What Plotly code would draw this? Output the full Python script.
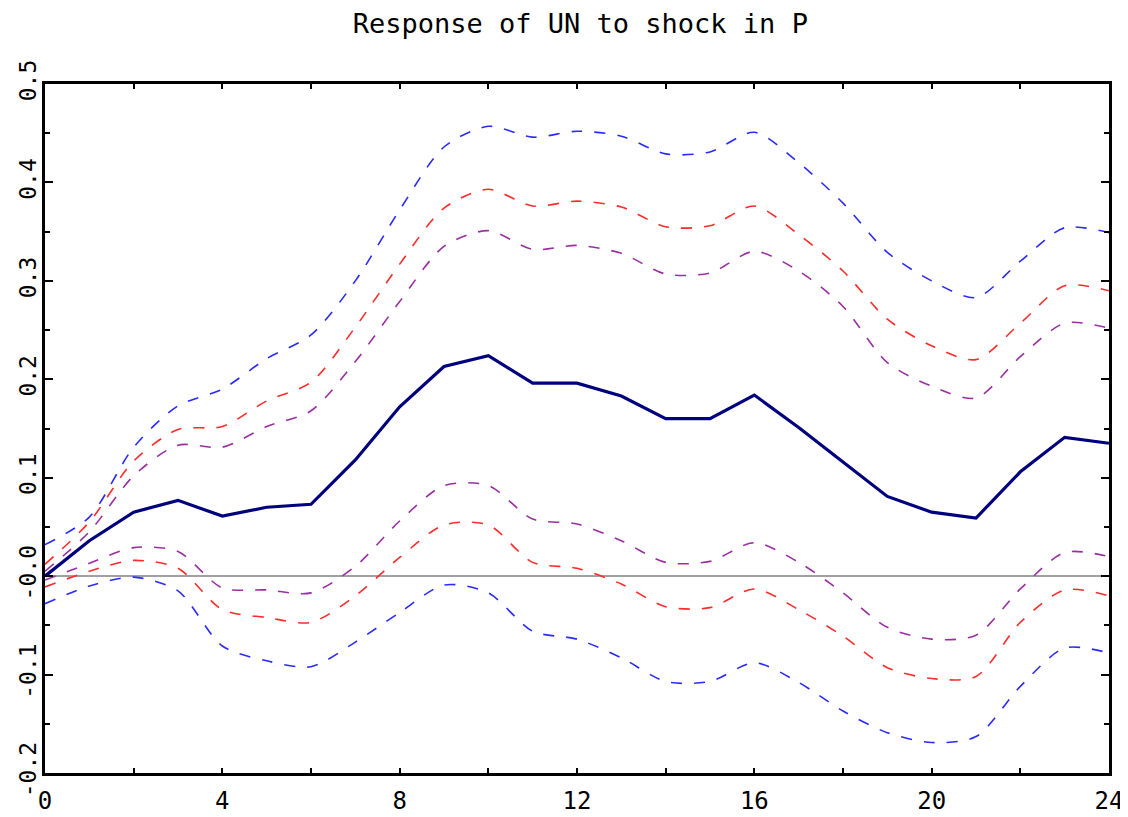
import plotly.graph_objects as go

steps = list(range(25))

response = [0.0, 0.036, 0.065, 0.077, 0.061, 0.07, 0.073, 0.118, 0.172, 0.213, 0.224, 0.196, 0.196,
            0.183, 0.16, 0.16, 0.184, 0.151, 0.116, 0.081, 0.065, 0.059, 0.106, 0.141, 0.135]

blue_upper = [0.032, 0.06, 0.131, 0.173, 0.19, 0.221, 0.245, 0.30, 0.372, 0.436, 0.457, 0.446, 0.452,
              0.447, 0.429, 0.431, 0.451, 0.42, 0.379, 0.329, 0.30, 0.283, 0.32, 0.354, 0.349]
red_upper = [0.012, 0.055, 0.117, 0.149, 0.152, 0.178, 0.197, 0.253, 0.317, 0.374, 0.393, 0.376, 0.381,
             0.375, 0.355, 0.356, 0.376, 0.347, 0.31, 0.261, 0.234, 0.22, 0.257, 0.295, 0.29]
purple_upper = [0.005, 0.045, 0.102, 0.133, 0.131, 0.152, 0.168, 0.218, 0.279, 0.335, 0.351, 0.332, 0.336,
                0.328, 0.307, 0.308, 0.33, 0.31, 0.274, 0.217, 0.193, 0.181, 0.223, 0.257, 0.252]
purple_lower = [-0.004, 0.013, 0.029, 0.025, -0.012, -0.014, -0.017, 0.01, 0.056, 0.092, 0.092, 0.058, 0.053,
                0.036, 0.014, 0.015, 0.034, 0.014, -0.017, -0.052, -0.064, -0.06, -0.013, 0.024, 0.02]
red_lower = [-0.011, 0.005, 0.016, 0.008, -0.034, -0.042, -0.047, -0.02, 0.019, 0.052, 0.052, 0.014, 0.008,
             -0.008, -0.031, -0.032, -0.013, -0.034, -0.061, -0.093, -0.104, -0.102, -0.047, -0.014, -0.02]
blue_lower = [-0.028, -0.01, -0.001, -0.015, -0.071, -0.086, -0.092, -0.067, -0.037, -0.009, -0.017, -0.056, -0.064,
              -0.083, -0.107, -0.107, -0.088, -0.108, -0.137, -0.159, -0.169, -0.163, -0.112, -0.073, -0.078]

x_tick_vals = [0, 4, 8, 12, 16, 20, 24]
x_tick_text = ["0", "4", "8", "12", "16", "20", "24"]
y_tick_vals = [-0.2, -0.1, 0.0, 0.1, 0.2, 0.3, 0.4, 0.5]
y_tick_text = ["-0.2", "-0.1", "-0.0", "0.1", "0.2", "0.3", "0.4", "0.5"]

title_text = "Response of UN to shock in P"

BLUE = "#2a2aff"
RED = "#ff2a2a"
PURPLE = "#9a2fa0"
NAVY = "#00007f"

# the page body adds an 8px margin, so the figure is 8px smaller than the window
FIG_W, FIG_H = 1120, 809

fig = go.Figure()

bands = [
    (blue_upper, BLUE), (blue_lower, BLUE),
    (red_upper, RED), (red_lower, RED),
    (purple_upper, PURPLE), (purple_lower, PURPLE),
]
for ys, col in bands:
    fig.add_trace(go.Scatter(
        x=steps, y=ys, mode="lines",
        line=dict(color=col, width=1.6, dash="11px,12px", shape="spline", smoothing=0.8),
        showlegend=False, hoverinfo="skip",
    ))

fig.add_trace(go.Scatter(
    x=steps, y=response, mode="lines",
    line=dict(color=NAVY, width=3.2),
    showlegend=False,
))

tick_font = dict(family="DejaVu Sans Mono", size=24, color="black")
ytick_font = dict(family="DejaVu Sans Mono", size=23, color="black")

fig.update_layout(
    width=FIG_W, height=FIG_H,
    paper_bgcolor="white", plot_bgcolor="white",
    margin=dict(l=37, r=19, t=76, b=44, autoexpand=False),
    title=dict(
        text=title_text, x=0.511, xanchor="center",
        y=1 - 16 / FIG_H, yref="container", yanchor="middle",
        font=dict(family="DejaVu Sans Mono", size=27, color="black"),
    ),
    xaxis=dict(
        range=[0, 24], tickvals=x_tick_vals, ticktext=x_tick_text,
        ticks="inside", ticklen=5, tickwidth=2, tickcolor="black",
        minor=dict(dtick=2, tick0=0, ticks="inside", ticklen=5, tickwidth=2, tickcolor="black"),
        showline=True, linewidth=3, linecolor="black", mirror="ticks",
        showgrid=False, zeroline=False, automargin=False,
        tickfont=tick_font, ticklabelstandoff=4,
    ),
    yaxis=dict(
        range=[-0.2, 0.5], tickvals=y_tick_vals, ticktext=y_tick_text,
        ticks="inside", ticklen=8, tickwidth=2, tickcolor="black",
        minor=dict(dtick=0.05, tick0=0, ticks="inside", ticklen=5, tickwidth=2, tickcolor="black"),
        showline=True, linewidth=3, linecolor="black", mirror="ticks",
        showgrid=False, automargin=False,
        zeroline=True, zerolinecolor="#a0a0a0", zerolinewidth=2,
        tickfont=ytick_font, tickangle=-90, ticklabelstandoff=-3,
    ),
)

fig.write_html("out.html")
